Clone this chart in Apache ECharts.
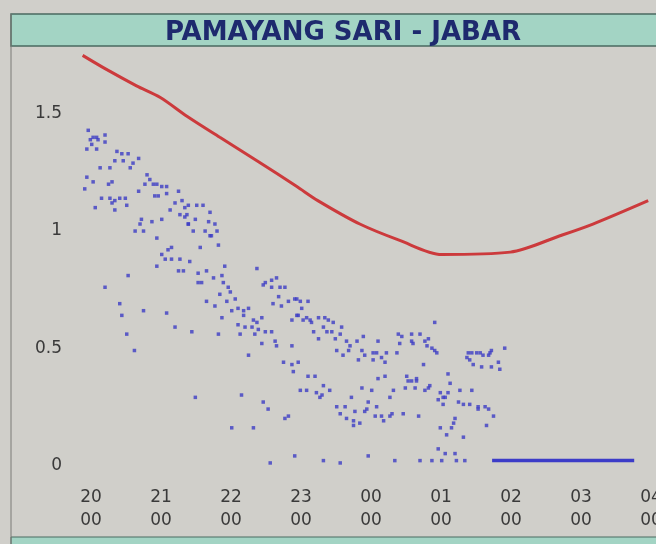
<!DOCTYPE html>
<html>
<head>
<meta charset="utf-8">
<script src="https://cdn.jsdelivr.net/npm/echarts@6/dist/echarts.min.js"></script>
<style>
html,body{margin:0;padding:0;background:#d0cfca;}
#chart{width:656px;height:544px;}
</style>
</head>
<body>
<div id="chart"></div>
<script>
// Title
const chartTitle = 'PAMAYANG SARI - JABAR';

// X ticks (hours; 24+ = next day)
const hourTicks = [20, 21, 22, 23, 24, 25, 26, 27, 28];
// Y ticks
const levelTicks = [0, 0.5, 1, 1.5];

// Predicted tide (red line): [hour, level m]
const predicted = [
  [19.88, 1.75], [20.22, 1.69], [20.65, 1.62], [20.99, 1.57], [21.37, 1.49],
  [21.84, 1.40], [22.37, 1.30], [22.94, 1.19], [23.24, 1.13], [23.84, 1.03],
  [24.41, 0.96], [25.01, 0.90], [25.99, 0.91], [26.70, 0.98], [27.17, 1.03],
  [27.96, 1.13]
];

// Flat observed segment (blue line)
const flatObserved = [[25.73, 0.02], [27.76, 0.02]];

// Observed scatter: [hour, level m]
const observed = [
  [19.96,1.43],[19.99,1.39],[20.03,1.40],[20.08,1.40],[20.10,1.39],[20.20,1.41],[20.20,1.38],[20.01,1.37],
  [19.94,1.35],[20.08,1.35],[20.37,1.34],[20.44,1.33],[20.53,1.33],[20.34,1.30],[20.46,1.30],[20.60,1.29],
  [20.56,1.27],[20.68,1.31],[20.13,1.27],[20.27,1.27],[19.94,1.23],[20.03,1.21],[19.91,1.18],[20.25,1.20],
  [20.30,1.21],[20.80,1.24],[20.84,1.22],[20.89,1.20],[20.77,1.20],[20.94,1.20],[21.01,1.19],[21.08,1.19],
  [20.91,1.15],[20.96,1.15],[21.08,1.16],[21.25,1.17],[20.68,1.17],[20.15,1.14],[20.27,1.14],[20.34,1.13],
  [20.41,1.14],[20.49,1.14],[20.30,1.12],[20.06,1.10],[20.34,1.09],[20.51,1.11],[21.20,1.12],[21.30,1.13],
  [21.34,1.10],[21.13,1.09],[21.27,1.07],[21.34,1.06],[21.39,1.03],[20.72,1.05],[20.70,1.03],[20.87,1.04],
  [21.01,1.05],[20.63,1.00],[20.75,1.00],[20.94,0.97],[21.15,0.93],[21.10,0.92],[21.01,0.90],[21.06,0.88],
  [21.15,0.88],[21.27,0.88],[20.94,0.85],[21.25,0.83],[21.32,0.83],[20.53,0.81],[20.20,0.76],[20.41,0.69],
  [20.44,0.64],[20.75,0.66],[21.08,0.65],[21.20,0.59],[20.51,0.56],[20.62,0.49],
  [21.39,1.11],[21.51,1.11],[21.60,1.11],[21.70,1.08],[21.37,1.07],[21.49,1.05],[21.68,1.04],[21.77,1.03],
  [21.39,1.03],[21.46,1.00],[21.63,1.00],[21.70,0.98],[21.72,0.98],[21.80,1.00],[21.56,0.93],[21.82,0.94],
  [21.41,0.87],[21.91,0.85],[22.37,0.84],[21.53,0.82],[21.65,0.83],[21.75,0.80],[21.87,0.81],[21.53,0.78],
  [21.58,0.78],[21.89,0.78],[21.96,0.76],[21.84,0.73],[21.99,0.74],[22.49,0.78],[22.46,0.77],[22.58,0.79],
  [22.65,0.80],[22.58,0.76],[22.70,0.76],[22.77,0.76],[22.68,0.72],[22.91,0.71],[21.65,0.70],[21.77,0.68],
  [21.94,0.70],[22.06,0.71],[22.60,0.69],[22.72,0.68],[22.82,0.70],[22.01,0.66],[22.10,0.67],[22.18,0.66],
  [22.25,0.67],[22.18,0.64],[22.32,0.62],[22.37,0.61],[22.44,0.63],[21.87,0.63],[22.10,0.60],[22.20,0.59],
  [22.30,0.59],[22.39,0.58],[22.49,0.57],[22.58,0.57],[22.13,0.56],[22.34,0.56],[21.44,0.57],[21.82,0.56],
  [22.44,0.52],[22.63,0.53],[22.65,0.51],[22.87,0.51],[22.94,0.64],[22.87,0.62],[22.25,0.47],[22.75,0.44],
  [22.87,0.43],[22.96,0.44],[22.89,0.40],[22.15,0.30],[21.49,0.29],[22.46,0.27],[22.53,0.24],[22.77,0.20],
  [22.82,0.21],[22.01,0.16],[22.32,0.16],[22.91,0.04],[22.56,0.01],
  [22.94,0.71],[22.99,0.70],[23.10,0.70],[23.01,0.67],[22.96,0.64],[23.03,0.62],[23.08,0.63],[23.13,0.62],
  [23.15,0.61],[23.25,0.63],[23.34,0.63],[23.39,0.62],[23.46,0.61],[23.18,0.57],[23.32,0.59],[23.37,0.57],
  [23.44,0.57],[23.58,0.59],[23.56,0.56],[23.49,0.54],[23.25,0.54],[23.65,0.53],[23.70,0.51],[23.80,0.53],
  [23.89,0.55],[24.10,0.53],[24.39,0.56],[24.44,0.55],[24.41,0.52],[23.68,0.49],[23.51,0.49],[23.87,0.49],
  [24.03,0.48],[24.08,0.48],[24.22,0.48],[24.37,0.48],[23.60,0.47],[23.91,0.47],[23.82,0.45],[24.03,0.45],
  [24.15,0.46],[24.20,0.44],[23.10,0.38],[23.20,0.38],[23.32,0.34],[22.99,0.32],[23.08,0.32],[23.22,0.31],
  [23.30,0.30],[23.27,0.29],[23.41,0.32],[23.72,0.29],[23.87,0.33],[24.01,0.32],[24.10,0.37],[24.20,0.38],
  [24.27,0.29],[24.32,0.32],[24.51,0.38],[24.53,0.36],[24.49,0.33],[23.51,0.25],[23.63,0.25],[23.96,0.27],
  [24.08,0.25],[23.94,0.24],[23.91,0.23],[23.56,0.22],[23.65,0.20],[23.77,0.23],[23.75,0.19],[23.84,0.18],
  [23.75,0.17],[24.06,0.21],[24.15,0.21],[24.18,0.19],[24.30,0.22],[24.27,0.21],[24.46,0.22],[23.32,0.02],
  [23.56,0.01],[23.96,0.04],[24.34,0.02],
  [24.91,0.61],[24.58,0.56],[24.70,0.56],[24.58,0.53],[24.60,0.52],[24.77,0.53],[24.82,0.54],[24.80,0.51],
  [24.87,0.50],[24.91,0.49],[24.94,0.48],[25.39,0.48],[25.37,0.46],[25.41,0.45],[25.46,0.43],[25.44,0.48],
  [25.51,0.48],[25.56,0.48],[25.60,0.47],[25.68,0.47],[25.70,0.48],[25.72,0.49],[25.58,0.42],[25.72,0.42],
  [25.82,0.44],[25.84,0.41],[25.91,0.50],[24.75,0.43],[24.58,0.36],[24.65,0.36],[24.63,0.33],[24.65,0.37],
  [24.82,0.33],[24.84,0.34],[24.77,0.32],[25.10,0.39],[25.13,0.35],[24.99,0.31],[25.03,0.29],[25.06,0.29],
  [25.10,0.31],[24.96,0.28],[25.03,0.26],[25.27,0.32],[25.44,0.32],[25.25,0.27],[25.32,0.26],[25.41,0.26],
  [25.53,0.25],[25.53,0.24],[25.63,0.25],[25.68,0.24],[25.75,0.21],[24.68,0.21],[25.20,0.20],[25.18,0.18],
  [25.15,0.16],[24.99,0.16],[25.65,0.17],[25.08,0.13],[25.32,0.12],[24.96,0.07],[25.06,0.05],[25.20,0.05],
  [24.70,0.02],[24.87,0.02],[25.01,0.02],[25.22,0.02],[25.34,0.02]
];

const chart = echarts.init(document.getElementById('chart'), null, {renderer: 'canvas'});

const pad2 = h => String(h % 24).padStart(2, '0');

chart.setOption({
  backgroundColor: '#d0cfca',
  animation: false,
  graphic: [
    { type: 'rect', shape: {x: 11, y: 14, width: 660, height: 32},
      style: {fill: '#a3d4c4', stroke: '#4a6a60', lineWidth: 1.5}, z: 0 },
    { type: 'rect', shape: {x: 11, y: 537, width: 660, height: 20},
      style: {fill: '#a3d4c4', stroke: '#4a6a60', lineWidth: 1}, z: 0 },
    { type: 'line', shape: {x1: 11, y1: 14, x2: 11, y2: 544},
      style: {stroke: '#7a7a76', lineWidth: 1}, z: 0 }
  ],
  title: {
    text: chartTitle,
    left: 338, top: 15, textAlign: 'center',
    textStyle: {fontFamily: 'DejaVu Sans', fontWeight: 'bold', fontSize: 26, color: '#1e2a6e'}
  },
  grid: {left: 75, right: 5, top: 46, bottom: 67, containLabel: false, outerBoundsMode: 'none'},
  xAxis: {
    type: 'value', min: 19.771, max: 28,
    axisLine: {show: false}, axisTick: {show: false},
    splitLine: {show: false},
    axisLabel: {
      customValues: hourTicks,
      formatter: v => pad2(Math.round(v)) + '\n00',
      fontFamily: 'DejaVu Sans', fontSize: 17, color: '#3a3a3a',
      lineHeight: 23, margin: 9
    }
  },
  yAxis: {
    type: 'value', min: -0.05, max: 1.79,
    axisLine: {show: false}, axisTick: {show: false},
    splitLine: {show: false},
    axisLabel: {
      customValues: levelTicks,
      formatter: v => String(v),
      fontFamily: 'DejaVu Sans', fontSize: 17, color: '#3a3a3a', margin: 13
    }
  },
  series: [
    { type: 'line', data: predicted, showSymbol: false, smooth: 0.3,
      lineStyle: {color: '#cc3a3c', width: 3}, z: 3 },
    { type: 'scatter', data: observed, symbol: 'rect', symbolSize: 3.5,
      itemStyle: {color: '#3c3cc4'}, z: 4 },
    { type: 'line', data: flatObserved, showSymbol: false,
      lineStyle: {color: '#3c3cc8', width: 3.5}, z: 4 }
  ]
});
</script>
</body>
</html>
